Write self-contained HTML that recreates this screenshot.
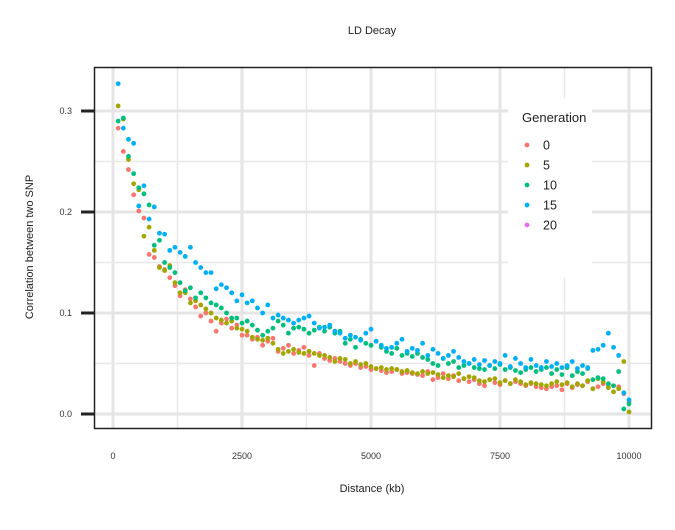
<!DOCTYPE html>
<html><head><meta charset="utf-8"><style>
body{margin:0;background:#fff}
svg text{font-family:"Liberation Sans",sans-serif}
</style></head><body>
<svg id="chart" width="675" height="525" xmlns="http://www.w3.org/2000/svg">
<rect width="675" height="525" fill="#fff"/>
<g id="grid"></g>
<g id="pts"></g>
<rect x="94.5" y="67.5" width="557" height="361" fill="none" stroke="#222" stroke-width="1.5"/>
<g id="axes"></g>
<text x="372" y="34" font-size="11" text-anchor="middle" fill="#222">LD Decay</text>
<text x="372" y="492" font-size="11" text-anchor="middle" fill="#222">Distance (kb)</text>
<text transform="translate(33,247) rotate(-90)" font-size="11" text-anchor="middle" fill="#222">Correlation between two SNP</text>
<g id="legend">
<rect x="508" y="98" width="84" height="180" fill="#fff"/>
<text x="522" y="122" font-size="13" fill="#222">Generation</text>
</g>
</svg>
<script>
const generations=["0","5","10","15","20"];
const colors=["#F8766D","#A3A500","#00BF7D","#00B0F6","#E76BF3"];
const xTicks=[0,2500,5000,7500,10000];
const yTicks=[0,0.1,0.2,0.3];
const gen0=[0.283,0.26,0.242,0.217,0.201,0.194,0.158,0.155,0.146,0.143,0.135,0.127,0.117,0.123,0.114,0.106,0.097,0.100,0.092,0.082,0.090,0.094,0.085,0.088,0.078,0.078,0.074,0.076,0.068,0.072,0.075,0.062,0.065,0.068,0.060,0.063,0.066,0.058,0.048,0.060,0.055,0.053,0.055,0.052,0.050,0.048,0.050,0.046,0.047,0.044,0.045,0.043,0.041,0.042,0.044,0.040,0.041,0.040,0.039,0.038,0.042,0.034,0.036,0.040,0.035,0.038,0.033,0.035,0.032,0.034,0.030,0.028,0.034,0.031,0.029,0.033,0.030,0.032,0.030,0.028,0.030,0.027,0.026,0.025,0.027,0.028,0.024,0.030,0.026,0.029,0.028,0.032,0.025,0.027,0.030,0.029,0.028,0.027,0.020,0.012];
const gen5=[0.305,0.292,0.252,0.228,0.222,0.176,0.185,0.162,0.145,0.142,0.147,0.130,0.120,0.120,0.110,0.112,0.108,0.104,0.100,0.095,0.093,0.090,0.092,0.085,0.084,0.082,0.076,0.074,0.073,0.075,0.070,0.064,0.060,0.062,0.064,0.061,0.060,0.062,0.060,0.058,0.058,0.056,0.052,0.055,0.054,0.050,0.052,0.049,0.050,0.047,0.045,0.046,0.044,0.045,0.044,0.042,0.043,0.041,0.040,0.042,0.040,0.041,0.039,0.036,0.038,0.037,0.040,0.035,0.037,0.036,0.033,0.032,0.034,0.035,0.031,0.033,0.030,0.034,0.032,0.029,0.031,0.030,0.029,0.028,0.030,0.032,0.029,0.031,0.027,0.030,0.028,0.033,0.025,0.035,0.032,0.026,0.022,0.025,0.052,0.002];
const gen10=[0.290,0.293,0.255,0.238,0.224,0.218,0.207,0.167,0.172,0.150,0.145,0.140,0.130,0.122,0.125,0.115,0.120,0.115,0.110,0.108,0.105,0.100,0.095,0.095,0.090,0.092,0.088,0.083,0.078,0.082,0.085,0.092,0.088,0.080,0.085,0.086,0.084,0.080,0.083,0.086,0.082,0.086,0.080,0.082,0.070,0.074,0.066,0.074,0.070,0.068,0.072,0.066,0.062,0.060,0.065,0.058,0.060,0.057,0.060,0.056,0.054,0.050,0.048,0.055,0.050,0.052,0.046,0.048,0.050,0.046,0.045,0.044,0.048,0.045,0.049,0.044,0.046,0.043,0.041,0.044,0.046,0.042,0.044,0.046,0.040,0.044,0.039,0.046,0.038,0.042,0.040,0.045,0.034,0.036,0.035,0.030,0.028,0.042,0.005,0.010];
const gen15=[0.327,0.283,0.272,0.268,0.206,0.226,0.193,0.205,0.179,0.178,0.162,0.165,0.160,0.156,0.165,0.150,0.145,0.140,0.140,0.124,0.128,0.125,0.120,0.112,0.118,0.110,0.112,0.105,0.100,0.108,0.095,0.098,0.095,0.093,0.090,0.093,0.095,0.097,0.090,0.085,0.086,0.088,0.082,0.080,0.075,0.078,0.076,0.073,0.080,0.084,0.072,0.068,0.065,0.066,0.070,0.074,0.062,0.065,0.063,0.070,0.058,0.064,0.060,0.055,0.058,0.062,0.056,0.052,0.050,0.054,0.049,0.053,0.048,0.052,0.050,0.058,0.047,0.055,0.050,0.046,0.054,0.048,0.046,0.052,0.047,0.050,0.046,0.048,0.052,0.045,0.048,0.046,0.063,0.064,0.068,0.080,0.066,0.058,0.021,0.014];
const gen20=[];
const series=[gen0,gen5,gen10,gen15,gen20];
const NS="http://www.w3.org/2000/svg";
function xs(v){return 113+v*(516/10000);}
function ys(v){return 414-v*1010;}
function mk(tag,attrs,parent){const e=document.createElementNS(NS,tag);for(const k in attrs)e.setAttribute(k,attrs[k]);parent.appendChild(e);return e;}
const grid=document.getElementById('grid'),pts=document.getElementById('pts'),axes=document.getElementById('axes'),legend=document.getElementById('legend');
for(let i=0;i<xTicks.length;i++){
  const x=xs(xTicks[i]);
  let l=mk('line',{x1:x,x2:x,y1:68,y2:428,stroke:'#e5e5e5','stroke-width':3},grid);
  
  
  if(i<xTicks.length-1){const xm=xs((xTicks[i]+xTicks[i+1])/2);
    let m=mk('line',{x1:xm,x2:xm,y1:68,y2:428,stroke:'#e8e8e8','stroke-width':1.5},grid);
    
    }
  let t=mk('text',{x:x,y:459,'font-size':9,'text-anchor':'middle',fill:'#333'},axes);
  t.textContent=xTicks[i];
  
  
}
for(let i=0;i<yTicks.length;i++){
  const y=ys(yTicks[i]);
  let l=mk('line',{x1:95,x2:652,y1:y,y2:y,stroke:'#e5e5e5','stroke-width':3},grid);
  
  
  const ym=ys(yTicks[i]+0.05);
  if(ym>68){
    let m=mk('line',{x1:95,x2:652,y1:ym,y2:ym,stroke:'#e8e8e8','stroke-width':1.5},grid);
    
    
  }
  let tk=mk('line',{x1:81,x2:94,y1:y,y2:y,stroke:'#222','stroke-width':3},axes);
  
  
  let t=mk('text',{x:72,y:y+3,'font-size':9,'text-anchor':'end',fill:'#333'},axes);
  t.textContent=yTicks[i].toFixed(1);
  
  
}
series.forEach((s,si)=>{
  s.forEach((v,i)=>{
    const c=mk('circle',{cx:xs((i+1)*100),cy:ys(v),r:2.4,fill:colors[si]},pts);
    
    
  });
});
generations.forEach((g,i)=>{
  const y=145+i*20;
  const c=mk('circle',{cx:527,cy:y,r:2.4,fill:colors[i]},legend);
  
  
  const t=mk('text',{x:543,y:y+4.5,'font-size':12.5,fill:'#222'},legend);
  t.textContent=g;
  
  
});
</script>
</body></html>
